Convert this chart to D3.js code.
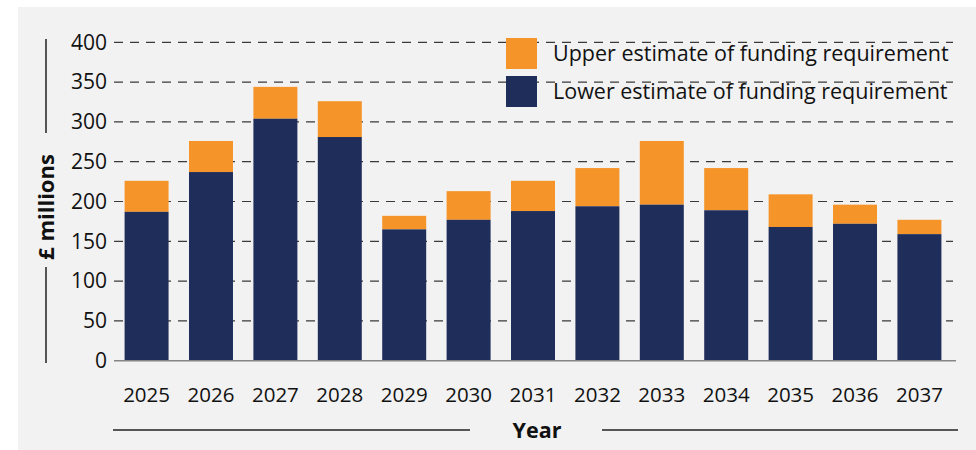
<!DOCTYPE html>
<html>
<head>
<meta charset="utf-8">
<script src="https://cdn.jsdelivr.net/npm/d3@7/dist/d3.min.js"></script>
<style>
  html, body { margin: 0; padding: 0; background: #ffffff; }
  svg { display: block; font-family: "Open Sans", "Noto Sans", sans-serif; }
</style>
</head>
<body>
<svg id="chart" width="976" height="450"></svg>
<script>
const years = ["2025","2026","2027","2028","2029","2030","2031","2032","2033","2034","2035","2036","2037"];
const lowerEstimate = [187, 237, 304, 281, 165, 177, 188, 194, 196, 189, 168, 172, 159];
const upperEstimate = [226, 276, 344, 326, 182, 213, 226, 242, 276, 242, 209, 196, 177];
const yTicks = [0, 50, 100, 150, 200, 250, 300, 350, 400];
const legendLabels = ["Upper estimate of funding requirement", "Lower estimate of funding requirement"];
const yTitle = "£ millions";
const xTitle = "Year";

const NAVY = "#1f2d5a";
const ORANGE = "#f59428";

const svg = d3.select("#chart");

// background panel
svg.append("rect").attr("x", 18).attr("y", 7).attr("width", 958).attr("height", 443).attr("fill", "#f2f2f2");

const x = d3.scaleBand().domain(years).range([113, 953]).paddingInner(0.317).paddingOuter(0.18);
const y = d3.scaleLinear().domain([0, 400]).range([360.7, 42.3]);

// gridlines
svg.append("g").selectAll("line").data(yTicks.filter(d => d > 0)).join("line")
  .attr("x1", 114).attr("x2", 953)
  .attr("y1", d => y(d)).attr("y2", d => y(d))
  .attr("stroke", "#3a3a3a").attr("stroke-width", 1.2)
  .attr("stroke-dasharray", "9,7");

// y tick labels via axis
const yAxis = d3.axisLeft(y).tickValues(yTicks).tickSize(0).tickPadding(0);
const gy = svg.append("g").attr("transform", "translate(107,0)").call(yAxis);
gy.select(".domain").remove();
gy.selectAll("text").attr("font-size", 21).attr("fill", "#111").attr("font-family", "Open Sans");

// bars
const rows = years.map((yr, i) => ({ year: yr, lower: lowerEstimate[i], upper: upperEstimate[i] }));
const g = svg.append("g");
g.selectAll("rect.upper").data(rows).join("rect").attr("class", "upper")
  .attr("x", d => x(d.year)).attr("width", x.bandwidth())
  .attr("y", d => y(d.upper)).attr("height", d => y(d.lower) - y(d.upper))
  .attr("fill", ORANGE);
g.selectAll("rect.lower").data(rows).join("rect").attr("class", "lower")
  .attr("x", d => x(d.year)).attr("width", x.bandwidth())
  .attr("y", d => y(d.lower)).attr("height", d => y(0) - y(d.lower))
  .attr("fill", NAVY);

// baseline
svg.append("line").attr("x1", 114).attr("x2", 956).attr("y1", y(0)).attr("y2", y(0))
  .attr("stroke", "#858585").attr("stroke-width", 1.6);

// x axis labels
const xAxis = d3.axisBottom(x).tickSize(0).tickPadding(0);
const gx = svg.append("g").attr("transform", "translate(0,395)").call(xAxis);
gx.select(".domain").remove();
gx.selectAll("text").attr("font-size", 20.5).attr("fill", "#111").attr("dy", "0.35em").attr("y", 0).attr("font-family", "Open Sans");

// x title with lines
svg.append("line").attr("x1", 113).attr("x2", 470).attr("y1", 430).attr("y2", 430).attr("stroke", "#222").attr("stroke-width", 1.5);
svg.append("line").attr("x1", 602).attr("x2", 958).attr("y1", 430).attr("y2", 430).attr("stroke", "#222").attr("stroke-width", 1.5);
svg.append("text").attr("x", 537).attr("y", 430).attr("dy", "0.35em").attr("text-anchor", "middle")
  .attr("font-size", 21.5).attr("font-weight", "bold").attr("fill", "#111").text(xTitle);

// y title with lines
svg.append("line").attr("x1", 46).attr("x2", 46).attr("y1", 39).attr("y2", 133).attr("stroke", "#222").attr("stroke-width", 1.5);
svg.append("line").attr("x1", 46).attr("x2", 46).attr("y1", 267).attr("y2", 363).attr("stroke", "#222").attr("stroke-width", 1.5);
svg.append("text").attr("transform", "translate(46,207) rotate(-90)").attr("dy", "0.35em").attr("text-anchor", "middle")
  .attr("font-size", 22).attr("font-weight", "bold").attr("fill", "#111").text(yTitle);

// legend
const legendColors = [ORANGE, NAVY];
const lg = svg.append("g").selectAll("g").data(legendLabels).join("g")
  .attr("transform", (d, i) => `translate(506,${38 + i * 38})`);
lg.append("rect").attr("width", 31).attr("height", 31).attr("fill", (d, i) => legendColors[i]);
lg.append("text").attr("x", 47).attr("y", 15.5).attr("dy", "0.35em")
  .attr("font-size", 21.5).attr("fill", "#111").text(d => d);
</script>
</body>
</html>
